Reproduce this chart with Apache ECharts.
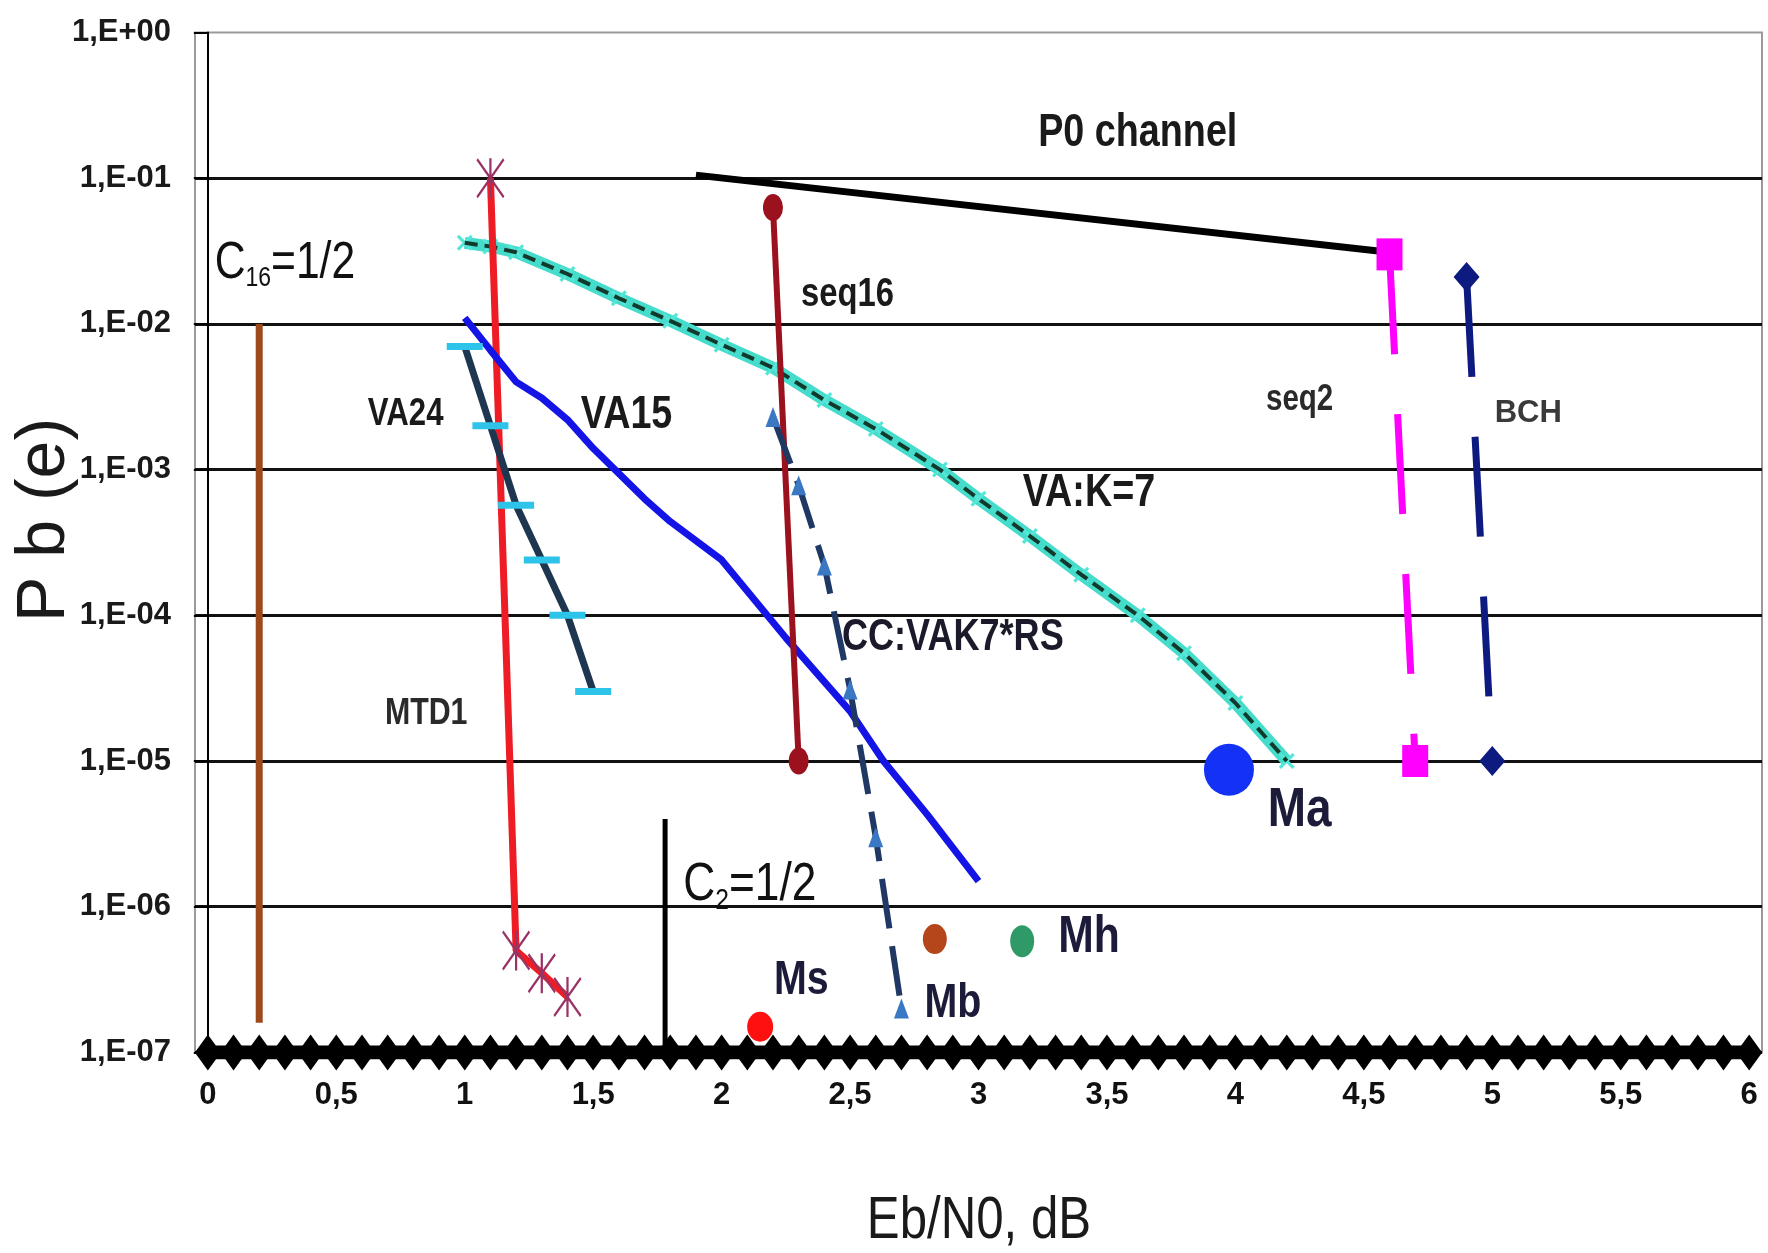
<!DOCTYPE html>
<html><head><meta charset="utf-8">
<script src="https://cdn.jsdelivr.net/npm/echarts@6/dist/echarts.min.js"></script>
<style>html,body{margin:0;padding:0;background:#fff}#c{width:1768px;height:1253px}</style>
</head><body><div id="c"></div>
<script>
// ---------- data ----------
const xTickValues = [0, 0.5, 1, 1.5, 2, 2.5, 3, 3.5, 4, 4.5, 5, 5.5, 6];
const mtd1 = [[1.1, 1e-1], [1.2, 5e-7], [1.3, 3.5e-7], [1.4, 2.4e-7]];
const vaK7 = [[1.0, 0.036], [1.1, 0.034], [1.2, 0.031], [1.4, 0.022], [1.6, 0.015], [1.8, 0.0105], [2.0, 0.0072], [2.2, 0.005], [2.4, 0.003], [2.6, 0.0019], [2.85, 0.001], [3.0, 6.3e-4], [3.2, 3.5e-4], [3.4, 1.9e-4], [3.62, 1e-4], [3.8, 5.5e-5], [4.0, 2.5e-5], [4.2, 1e-5]];
const va24 = [[1.0, 7e-3], [1.1, 2e-3], [1.2, 5.7e-4], [1.3, 2.4e-4], [1.4, 1e-4], [1.5, 3e-5]];
const va15 = [[1.0, 0.011], [1.1, 6.6e-3], [1.2, 4e-3], [1.3, 3.1e-3], [1.4, 2.2e-3], [1.5, 1.4e-3], [1.7, 6.3e-4], [1.8, 4.4e-4], [2.0, 2.4e-4], [2.25, 7e-5], [2.5, 2.2e-5], [2.63, 1e-5], [2.8, 4.3e-6], [3.0, 1.5e-6]];
const seq16 = [[2.2, 0.063], [2.3, 1e-5]];
const ccVak7rs = [[2.2, 2.3e-3], [2.3, 7.8e-4], [2.4, 2.2e-4], [2.5, 3.1e-5], [2.6, 3e-6], [2.7, 2e-7]];
const p0Channel = [[1.9, 0.105], [4.6, 0.031]];
const seq2 = [[4.6, 0.03], [4.7, 1e-5]];
const bch = [[4.9, 0.021], [5.0, 1e-5]];
const c16Limit = [[0.2, 0.01], [0.2, 1.6e-7]];
const c2Limit = [[1.78, 4e-6], [1.78, 1.1e-7]];
const pointMa = [3.975, 8.7e-6];
const pointMs = [2.15, 1.5e-7];
const pointBrown = [2.83, 6e-7];
const pointMh = [3.17, 5.8e-7];
const floorX = [0, 0.1, 0.2, 0.3, 0.4, 0.5, 0.6, 0.7, 0.8, 0.9, 1, 1.1, 1.2, 1.3, 1.4, 1.5, 1.6, 1.7, 1.8, 1.9, 2, 2.1, 2.2, 2.3, 2.4, 2.5, 2.6, 2.7, 2.8, 2.9, 3, 3.1, 3.2, 3.3, 3.4, 3.5, 3.6, 3.7, 3.8, 3.9, 4, 4.1, 4.2, 4.3, 4.4, 4.5, 4.6, 4.7, 4.8, 4.9, 5, 5.1, 5.2, 5.3, 5.4, 5.5, 5.6, 5.7, 5.8, 5.9, 6];
const floorY = 1e-7;
const annotationTexts = ['P0 channel', 'C16=1/2', 'seq16', 'VA24', 'VA15', 'seq2', 'BCH', 'VA:K=7', 'CC:VAK7*RS', 'MTD1', 'Ma', 'C2=1/2', 'Ms', 'Mh', 'Mb'];
const annotationAnchors = [[3.62, 0.204], [0.3, 0.026], [2.49, 0.0158], [0.77, 0.0024], [1.63, 0.00237], [4.25, 0.0030], [5.14, 0.00244], [3.43, 6.9e-4], [2.9, 7e-5], [0.85, 2.1e-5], [4.25, 4.6e-6], [2.11, 1.4e-6], [2.31, 3.1e-7], [3.43, 6.1e-7], [2.9, 2.15e-7]];

// ---------- styles ----------
const SANS = "'Liberation Sans',Arial,sans-serif";
const NARROW_SCALE = 0.82; // Arial Narrow ≈ Arial compressed horizontally
const ASTERISK = 'path://M46 0L54 0L54 100L46 100Z M0 5L5 0L100 95L95 100Z M95 0L100 5L5 100L0 95Z';
const XMARK = 'path://M0 14L14 0L100 86L86 100Z M86 0L100 14L14 100L0 86Z';
const annotationStyle = {
  'P0 channel': {size: 46, weight: 'bold', sx: NARROW_SCALE},
  'seq16': {size: 40, weight: 'bold', sx: NARROW_SCALE},
  'VA24': {size: 38, weight: 'bold', sx: NARROW_SCALE},
  'VA15': {size: 46, weight: 'bold', sx: NARROW_SCALE},
  'seq2': {size: 36, weight: 'bold', sx: NARROW_SCALE, fill: '#2a2a2a'},
  'BCH': {size: 31, weight: 'bold', sx: 1, fill: '#3a3a3a'},
  'VA:K=7': {size: 46, weight: 'bold', sx: NARROW_SCALE},
  'CC:VAK7*RS': {size: 44, weight: 'bold', sx: NARROW_SCALE, fill: '#1a1a2a'},
  'MTD1': {size: 37, weight: 'bold', sx: NARROW_SCALE, fill: '#2a2a2a'},
  'Ma': {size: 56, weight: 'bold', sx: NARROW_SCALE, fill: '#1c1c3a'},
  'Ms': {size: 48, weight: 'bold', sx: NARROW_SCALE, fill: '#1c1c3a'},
  'Mh': {size: 52, weight: 'bold', sx: NARROW_SCALE, fill: '#1c1c3a'},
  'Mb': {size: 48, weight: 'bold', sx: NARROW_SCALE, fill: '#1c1c3a'}
};
const subscriptStyle = {
  'C16=1/2': {main: 52, sub: 28},
  'C2=1/2': {main: 54, sub: 30}
};

function yLabel(v) {
  const e = Math.round(Math.log10(v));
  return '1,E' + (e >= 0 ? '+' : '-') + String(Math.abs(e)).padStart(2, '0');
}

const chart = echarts.init(document.getElementById('c'));
chart.setOption({
  animation: false,
  backgroundColor: '#fff',
  grid: {left: 195, right: 6, top: 32.5, bottom: 200.6, show: true, borderColor: '#9a9a9a', borderWidth: 2, backgroundColor: 'transparent'},
  xAxis: {
    type: 'value', min: -0.05, max: 6.05,
    axisLine: {show: false}, axisTick: {show: false}, splitLine: {show: false},
    axisLabel: {
      customValues: xTickValues,
      formatter: v => String(v).replace('.', ','),
      fontFamily: SANS, fontWeight: 'bold', fontSize: 31, color: '#111', margin: 28
    }
  },
  yAxis: {
    type: 'log', logBase: 10, min: 1e-7, max: 1,
    axisLine: {show: true, lineStyle: {color: '#000', width: 2}},
    axisTick: {show: true, length: 14, lineStyle: {color: '#000', width: 2}},
    splitLine: {show: true, showMaxLine: false, lineStyle: {color: '#111', width: 3}},
    minorTick: {show: false},
    axisLabel: {formatter: yLabel, fontFamily: SANS, fontWeight: 'bold', fontSize: 31, color: '#1a1a1a', margin: 24}
  },
  series: [
    {name: 'floor', type: 'line', z: 2, data: floorX.map(x => [x, floorY]), symbol: 'diamond', symbolSize: [26, 36], showSymbol: true,
      itemStyle: {color: '#000'}, lineStyle: {color: '#000', width: 14}},
    {name: 'C16=1/2', type: 'line', z: 3, data: c16Limit, symbol: 'none', lineStyle: {color: '#9c4a1c', width: 7}},
    {name: 'C2=1/2', type: 'line', z: 3, data: c2Limit, symbol: 'none', lineStyle: {color: '#000', width: 5}},
    {name: 'P0 channel', type: 'line', z: 3, data: p0Channel, symbol: 'none', lineStyle: {color: '#000', width: 7}},
    {name: 'VA:K=7 band', type: 'line', z: 3, data: vaK7, symbol: XMARK, symbolSize: 16, itemStyle: {color: '#54e6d8'}, lineStyle: {color: '#45dccb', width: 12}},
    {name: 'VA:K=7', type: 'line', z: 4, data: vaK7, symbol: 'none', lineStyle: {color: '#123a2c', width: 4, type: [13, 7]}},
    {name: 'MTD1', type: 'line', z: 5, data: mtd1, symbol: ASTERISK, symbolSize: [28, 40], itemStyle: {color: '#993366'}, lineStyle: {color: '#ee1c25', width: 7}},
    {name: 'VA24', type: 'line', z: 5, data: va24, symbol: 'rect', symbolSize: [36, 7], itemStyle: {color: '#2ec4ea'}, lineStyle: {color: '#1f3650', width: 7}},
    {name: 'VA15', type: 'line', z: 5, data: va15, symbol: 'none', lineStyle: {color: '#1414e6', width: 7}},
    {name: 'seq16', type: 'line', z: 5, data: seq16, symbol: 'circle', symbolSize: [20, 27], itemStyle: {color: '#9b111e'}, lineStyle: {color: '#9b111e', width: 6}},
    {name: 'CC:VAK7*RS', type: 'line', z: 6, data: ccVak7rs, symbol: 'triangle', symbolSize: [15, 20], itemStyle: {color: '#3b78c4'}, lineStyle: {color: '#1f3864', width: 6, type: [50, 18]}},
    {name: 'seq2', type: 'line', z: 5, data: seq2, symbol: 'rect', symbolSize: [26, 32], itemStyle: {color: '#ff00ff'}, lineStyle: {color: '#ff00ff', width: 7, type: [100, 60]}},
    {name: 'BCH', type: 'line', z: 5, data: bch, symbol: 'diamond', symbolSize: [26, 30], itemStyle: {color: '#0d1a80'}, lineStyle: {color: '#0d1a80', width: 7, type: [100, 60]}},
    {name: 'points', type: 'scatter', z: 7, itemStyle: {opacity: 1}, data: [
      {value: pointMa, symbolSize: [50, 52], itemStyle: {color: '#1432f5', opacity: 1}},
      {value: pointMs, symbolSize: [26, 30], itemStyle: {color: '#ff1010', opacity: 1}},
      {value: pointBrown, symbolSize: [24, 30], itemStyle: {color: '#b5461b', opacity: 1}},
      {value: pointMh, symbolSize: [24, 32], itemStyle: {color: '#2f9a68', opacity: 1}}
    ]}
  ]
});

// ---------- text annotations, placed through the chart's own scales ----------
const graphics = [
  {type: 'text', x: 45, y: 520, rotation: Math.PI / 2, z: 100,
    style: {text: 'P b (e)', font: '68px ' + SANS, fill: '#1a1a1a', align: 'center', verticalAlign: 'middle'}},
  {type: 'text', x: 979, y: 1221, scaleX: NARROW_SCALE, z: 100,
    style: {text: 'Eb/N0, dB', font: '60px ' + SANS, fill: '#1a1a1a', align: 'center', verticalAlign: 'middle'}}
];
annotationTexts.forEach((t, i) => {
  const p = chart.convertToPixel({xAxisIndex: 0, yAxisIndex: 0}, annotationAnchors[i]);
  if (subscriptStyle[t]) {
    const s = subscriptStyle[t];
    const sub = t.slice(1, t.indexOf('='));
    graphics.push({type: 'text', x: p[0], y: p[1], scaleX: NARROW_SCALE, z: 100, style: {
      text: '{a|C}{s|' + sub + '}{a|' + t.slice(t.indexOf('=')) + '}',
      align: 'center', verticalAlign: 'middle',
      rich: {
        a: {fontSize: s.main, fontFamily: SANS, lineHeight: s.main + 6, fill: '#111'},
        s: {fontSize: s.sub, fontFamily: SANS, lineHeight: s.sub + 6, verticalAlign: 'bottom', fill: '#111'}
      }
    }});
  } else {
    const s = annotationStyle[t];
    graphics.push({type: 'text', x: p[0], y: p[1], scaleX: s.sx, z: 100, style: {
      text: t, font: s.weight + ' ' + s.size + 'px ' + SANS, fill: s.fill || '#1a1a1a',
      align: 'center', verticalAlign: 'middle'
    }});
  }
});
chart.setOption({graphic: graphics});
</script></body></html>
